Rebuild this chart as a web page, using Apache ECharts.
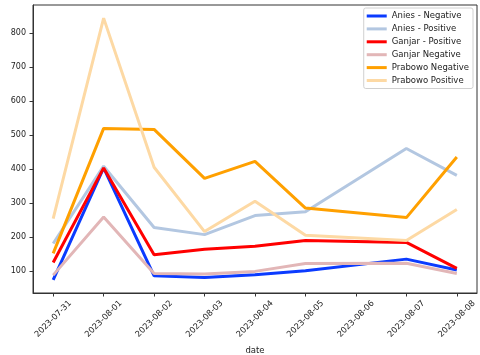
<!DOCTYPE html>
<html>
<head>
<meta charset="utf-8">
<script src="https://cdn.jsdelivr.net/npm/echarts@6/dist/echarts.min.js"></script>
<style>
  html, body { margin: 0; padding: 0; background: #fff; }
  #chart { width: 480px; height: 355px; }
</style>
</head>
<body>
<div id="chart"></div>
<script>
  // tick labels on the x axis (one per day), 08-06 has no data
  const tickLabels = ['2023-07-31', '2023-08-01', '2023-08-02', '2023-08-03', '2023-08-04',
    '2023-08-05', '2023-08-06', '2023-08-07', '2023-08-08']
  const pointDates = ['2023-07-31', '2023-08-01', '2023-08-02', '2023-08-03', '2023-08-04',
    '2023-08-05', '2023-08-07', '2023-08-08']

  const aniesNegative = [75, 404, 87, 82, 90, 102, 136, 104]
  const aniesPositive = [182, 409, 229, 208, 264, 275, 461, 382]
  const ganjarPositive = [126, 404, 149, 165, 174, 191, 185, 109]
  const ganjarNegative = [89, 260, 94, 92, 100, 123, 124, 94]
  const prabowoNegative = [153, 520, 517, 373, 423, 286, 258, 436]
  const prabowoPositive = [255, 844, 406, 217, 306, 206, 191, 282]

  const yTicks = [100, 200, 300, 400, 500, 600, 700, 800]

  const day0 = Date.parse(tickLabels[0])
  const dayIndex = d => (Date.parse(d) - day0) / 86400000
  const xTicks = tickLabels.map(dayIndex)

  const toPoints = vals => pointDates.map((d, i) => [dayIndex(d), vals[i]])

  const seriesDefs = [
    { name: 'Anies - Negative', color: '#0b3bff', data: aniesNegative },
    { name: 'Anies - Positive', color: '#b3c7e1', data: aniesPositive },
    { name: 'Ganjar - Positive', color: '#ff0000', data: ganjarPositive },
    { name: 'Ganjar Negative', color: '#e2b6b7', data: ganjarNegative },
    { name: 'Prabowo Negative', color: '#ffa000', data: prabowoNegative },
    { name: 'Prabowo Positive', color: '#fdd9a4', data: prabowoPositive },
  ]

  const font = 'DejaVu Sans'
  const axisColor = '#333'

  const option = {
    animation: false,
    backgroundColor: '#fff',
    textStyle: { fontFamily: font },
    grid: {
      left: 33, right: 3, top: 5, bottom: 62,
      containLabel: false,
      outerBoundsMode: 'none',
      show: true, borderColor: axisColor, borderWidth: 1,
    },
    legend: {
      orient: 'vertical',
      right: 7,
      top: 8,
      padding: [3, 4, 3, 3],
      itemWidth: 20,
      itemHeight: 3,
      itemGap: 2.9,
      icon: 'rect',
      backgroundColor: '#fff',
      borderColor: '#d0d0d0',
      borderWidth: 1,
      borderRadius: 2,
      textStyle: { fontFamily: font, fontSize: 8.5, color: '#222', lineHeight: 10, padding: [0, 0, 0, 0] },
      data: seriesDefs.map(s => s.name),
    },
    xAxis: {
      type: 'value',
      min: -0.4,
      max: 8.4,
      name: 'date',
      nameLocation: 'middle',
      nameGap: 50,
      nameTextStyle: { fontFamily: font, fontSize: 8.5, color: '#222' },
      splitLine: { show: false },
      axisLine: { show: true, onZero: false, lineStyle: { color: axisColor, width: 1 } },
      axisTick: { show: true, length: 3.5, customValues: xTicks, lineStyle: { color: axisColor } },
      axisLabel: {
        customValues: xTicks,
        rotate: 45,
        align: 'center',
        verticalAlign: 'middle',
        margin: 26,
        fontFamily: font,
        fontSize: 8.3,
        color: '#222',
        formatter: v => tickLabels[Math.round(v)],
      },
    },
    yAxis: {
      type: 'value',
      min: 36.5,
      max: 882.5,
      splitLine: { show: false },
      axisLine: { show: true, onZero: false, lineStyle: { color: axisColor, width: 1 } },
      axisTick: { show: true, length: 3.5, customValues: yTicks, lineStyle: { color: axisColor } },
      axisLabel: {
        customValues: yTicks,
        margin: 7,
        fontFamily: font,
        fontSize: 8,
        color: '#222',
      },
    },
    series: seriesDefs.map(s => ({
      name: s.name,
      type: 'line',
      data: toPoints(s.data),
      showSymbol: false,
      symbol: 'none',
      color: s.color,
      lineStyle: { color: s.color, width: 3 },
      itemStyle: { color: s.color },
    })),
  }

  const chart = echarts.init(document.getElementById('chart'))
  chart.setOption(option)
</script>
</body>
</html>
